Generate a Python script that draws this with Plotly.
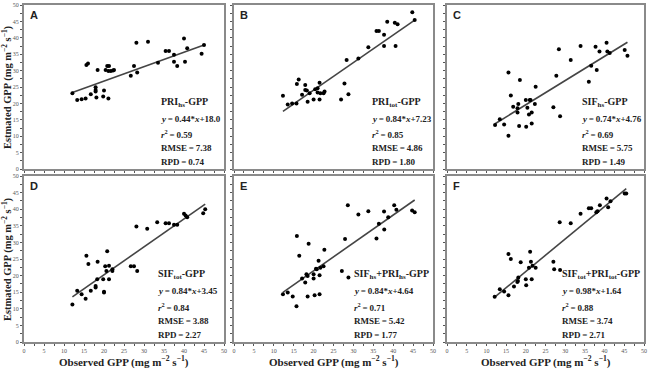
import plotly.graph_objects as go

# ---------------- data ----------------
panel_letters = ["A", "B", "C", "D", "E", "F"]
model_names = ["PRI<sub>hs</sub>-GPP", "PRI<sub>tot</sub>-GPP", "SIF<sub>hs</sub>-GPP",
               "SIF<sub>tot</sub>-GPP", "SIF<sub>hs</sub>+PRI<sub>hs</sub>-GPP",
               "SIF<sub>tot</sub>+PRI<sub>tot</sub>-GPP"]
slopes = [0.44, 0.84, 0.74, 0.84, 0.84, 0.98]
intercepts = [18.0, 7.23, 4.76, 3.45, 4.64, 1.64]
intercept_text = ["18.0", "7.23", "4.76", "3.45", "4.64", "1.64"]
r2_values = ["0.59", "0.85", "0.69", "0.84", "0.71", "0.88"]
rmse_values = ["7.38", "4.86", "5.75", "3.88", "5.42", "3.74"]
rpd_values = ["0.74", "1.80", "1.49", "2.27", "1.77", "2.71"]

a_obs = [12.1, 13.3, 14.4, 15.4, 15.6, 16.0, 16.7, 17.9, 17.9, 17.9, 18.1, 18.4, 19.8, 20.0,
         20.4, 20.8, 21.25, 21.1, 21.7, 21.1, 22.25, 22.5, 26.7, 27.5, 28.1, 28.3, 31.0, 33.5,
         35.4, 36.25, 37.5, 37.5, 38.3, 40.0, 40.25, 40.8, 44.4, 45.0]
a_est = [23.1, 21.0, 21.3, 21.5, 31.7, 32.2, 22.8, 24.9, 24.1, 23.6, 21.8, 30.2, 22.1, 23.9,
         30.2, 31.4, 31.4, 29.9, 29.9, 21.5, 30.0, 30.2, 28.4, 31.4, 38.5, 29.4, 38.8, 32.4,
         36.0, 36.0, 34.8, 32.7, 31.4, 39.8, 32.7, 36.8, 35.1, 37.8]

b_obs = [12.3, 13.5, 14.6, 15.7, 15.8, 16.25, 17.1, 17.9, 17.9, 18.3, 18.5, 19.0, 20.0, 20.4,
         21.0, 21.0, 21.7, 21.5, 21.5, 22.5, 22.75, 26.9, 27.75, 28.3, 28.75, 31.25, 33.75,
         35.8, 36.4, 37.7, 37.7, 38.5, 40.4, 40.6, 41.1, 44.8, 45.4]
b_est = [22.3, 19.7, 20.0, 20.0, 25.9, 27.3, 22.6, 25.6, 24.1, 23.9, 20.5, 23.1, 21.2, 24.3,
         24.6, 23.3, 23.1, 21.2, 26.3, 23.1, 23.6, 21.2, 26.1, 33.2, 22.8, 33.7, 37.1,
         42.1, 42.1, 40.9, 37.5, 44.9, 44.6, 37.5, 44.1, 47.8, 45.4]

c_obs = [12.2, 13.4, 14.5, 15.6, 15.6, 16.2, 16.8, 17.9, 17.9, 18.1, 18.3, 18.5, 20.0, 20.1,
         20.4, 20.8, 21.0, 21.2, 21.5, 21.5, 22.3, 22.5, 27.0, 27.75, 28.4, 28.7, 31.4, 33.9,
         36.0, 36.6, 37.7, 38.0, 38.7, 40.5, 40.7, 41.3, 45.1, 45.8]
c_est = [13.4, 15.2, 13.6, 10.1, 29.4, 22.4, 19.0, 18.5, 17.2, 19.8, 13.1, 27.1, 21.0, 12.9,
         18.7, 16.6, 21.0, 21.0, 17.2, 13.9, 19.8, 25.1, 18.8, 28.4, 36.5, 16.1, 33.2, 37.5,
         26.6, 31.5, 37.3, 30.2, 35.8, 38.5, 35.8, 35.4, 36.3, 34.5]

d_obs = [12.1, 13.3, 14.4, 15.4, 15.6, 16.1, 16.7, 17.9, 17.9, 18.3, 18.4, 19.8, 20.0, 20.0,
         20.3, 20.6, 20.8, 21.25, 21.25, 22.1, 22.1, 26.7, 27.5, 28.1, 28.3, 30.8, 33.3,
         35.4, 36.25, 37.5, 38.3, 40.0, 40.4, 40.8, 44.8, 45.3]
d_est = [11.3, 15.4, 14.4, 13.0, 26.0, 23.5, 15.4, 16.9, 16.4, 18.9, 24.2, 18.9, 15.1, 14.9,
         22.8, 21.4, 27.3, 18.9, 23.0, 21.9, 21.4, 22.8, 22.8, 34.8, 21.4, 34.1, 36.1,
         35.8, 35.8, 35.3, 35.3, 38.6, 38.1, 37.6, 38.8, 40.0]

e_obs = [12.3, 13.5, 14.75, 15.7, 15.8, 16.4, 17.1, 17.9, 18.2, 18.5, 18.5, 18.75, 20.0,
         20.0, 20.25, 20.6, 20.8, 21.25, 21.5, 21.5, 21.7, 22.5, 22.7, 27.1, 27.9, 28.6, 28.75,
         31.25, 33.75, 35.8, 36.4, 37.7, 37.75, 38.75, 40.25, 40.8, 44.75, 45.4]
e_est = [14.4, 14.9, 13.7, 10.8, 31.9, 26.0, 19.1, 17.9, 20.4, 19.9, 13.7, 29.6, 19.1,
         20.4, 14.1, 22.1, 21.9, 24.5, 14.4, 20.1, 22.4, 22.8, 27.8, 21.4, 31.0, 41.2, 19.4,
         38.4, 39.4, 31.2, 35.6, 39.3, 33.9, 37.6, 41.2, 39.8, 39.6, 39.1]

f_obs = [12.1, 13.4, 14.5, 15.6, 15.6, 16.2, 17.0, 17.85, 18.0, 18.1, 18.7, 20.0, 20.1,
         20.8, 21.1, 21.3, 21.5, 21.7, 22.5, 27.0, 27.2, 28.7, 28.6, 31.4, 33.9, 36.0, 36.6,
         37.9, 38.2, 38.8, 40.5, 40.9, 41.5, 45.1, 45.5]
f_est = [13.6, 15.9, 15.2, 14.1, 26.5, 25.0, 16.7, 18.1, 18.4, 19.4, 24.0, 18.9, 17.1,
         22.4, 27.2, 24.2, 18.9, 23.0, 22.4, 24.2, 21.9, 21.7, 36.1, 35.8, 38.6, 40.3, 40.3,
         39.1, 39.4, 41.2, 43.2, 40.6, 42.4, 44.7, 44.7]

observed = [a_obs, b_obs, c_obs, d_obs, e_obs, f_obs]
estimated = [a_est, b_est, c_est, d_est, e_est, f_est]

axis_ticks = [0, 5, 10, 15, 20, 25, 30, 35, 40, 45, 50]
text_x = [34.0, 34.5, 34.0, 33.3, 29.8, 29.0]

# ---------------- layout ----------------
W, H = 650, 371
col_px = [(24, 224), (234, 433), (447, 644)]
row_px = [(5, 169), (176, 342)]

SERIF = "Liberation Serif, Times New Roman, serif"
SANS = "Liberation Sans, Arial, sans-serif"
FRAME = "#8a8a8a"

fig = go.Figure()
layout = dict(
    width=W, height=H, margin=dict(l=0, r=0, t=0, b=0, pad=0, autoexpand=False),
    paper_bgcolor="white", plot_bgcolor="white", showlegend=False,
    font=dict(family=SERIF, color="#222"),
)
annotations = []

for i in range(6):
    r, c = divmod(i, 3)
    k = i + 1
    xa = "x" if k == 1 else f"x{k}"
    ya = "y" if k == 1 else f"y{k}"
    xdom = [col_px[c][0] / W, col_px[c][1] / W]
    ydom = [1 - row_px[r][1] / H, 1 - row_px[r][0] / H]
    common = dict(range=[0, 50], tickvals=axis_ticks, showgrid=False, zeroline=False,
                  showline=True, linecolor=FRAME, linewidth=2, mirror=True,
                  ticks="outside", ticklen=2, tickwidth=1, tickcolor="#555",
                  minor=dict(dtick=2.5, ticks="outside", ticklen=2, tickcolor="#555"),
                  tickfont=dict(family=SERIF, size=6, color="#555"), automargin=False)
    layout["xaxis" if k == 1 else f"xaxis{k}"] = dict(
        common, domain=xdom, anchor=ya, showticklabels=(r == 1))
    layout["yaxis" if k == 1 else f"yaxis{k}"] = dict(
        common, domain=ydom, anchor=xa, showticklabels=(c == 0))

    xs, ys = observed[i], estimated[i]
    x0, x1 = min(xs), max(xs)
    fig.add_trace(go.Scatter(
        x=[x0, x1], y=[slopes[i] * x0 + intercepts[i], slopes[i] * x1 + intercepts[i]],
        mode="lines", line=dict(color="#454545", width=1.6), xaxis=xa, yaxis=ya,
        hoverinfo="skip"))
    fig.add_trace(go.Scatter(
        x=xs, y=ys, mode="markers", marker=dict(color="black", size=4, symbol="circle"),
        xaxis=xa, yaxis=ya))

    # panel letter
    annotations.append(dict(
        text=f"<b>{panel_letters[i]}</b>", xref=f"{xa} domain", yref=f"{ya} domain",
        x=0, y=1, xanchor="left", yanchor="top", xshift=5, yshift=-3, showarrow=False,
        borderpad=0, font=dict(family=SANS, size=11, color="#222")))

    # statistics text
    lines = [
        (f"<b>{model_names[i]}</b>", 20.2, 10),
        (f"<b><i>y</i>\u2009=\u2009{slopes[i]:.2f}*<i>x</i>+{intercept_text[i]}</b>", 15.3, 9),
        (f"<b><i>r</i><sup>2</sup>\u2009=\u2009{r2_values[i]}</b>", 10.6, 9),
        (f"<b>RMSE\u2009=\u2009{rmse_values[i]}</b>", 6.4, 9),
        (f"<b>RPD\u2009=\u2009{rpd_values[i]}</b>", 2.2, 9),
    ]
    for txt, yy, fs in lines:
        annotations.append(dict(
            text=txt, xref=xa, yref=ya, x=text_x[i], y=yy, xanchor="left",
            yanchor="middle", showarrow=False, borderpad=0,
            font=dict(family=SERIF, size=fs, color="#222")))

# axis titles
ytitle = "<b>Estmated GPP (mg m<sup>\u22122</sup> s<sup>\u22121</sup>)</b>"
xtitle = "<b>Observed GPP (mg m<sup>\u22122</sup> s<sup>\u22121</sup>)</b>"
for r in range(2):
    yc = 1 - (row_px[r][0] + row_px[r][1]) / 2 / H
    annotations.append(dict(
        text=ytitle, xref="paper", yref="paper", x=7 / W, y=yc, textangle=-90,
        xanchor="center", yanchor="middle", showarrow=False, borderpad=0,
        font=dict(family=SERIF, size=10.5, color="#222")))
for c in range(3):
    xc = (col_px[c][0] + col_px[c][1]) / 2 / W
    annotations.append(dict(
        text=xtitle, xref="paper", yref="paper", x=xc, y=1 - 361 / H,
        xanchor="center", yanchor="middle", showarrow=False, borderpad=0,
        font=dict(family=SERIF, size=11, color="#222")))

layout["annotations"] = annotations
fig.update_layout(**layout)
fig.write_html("out.html", config={"displayModeBar": False},
               post_script="document.body.style.margin='0';document.body.style.padding='0';")
